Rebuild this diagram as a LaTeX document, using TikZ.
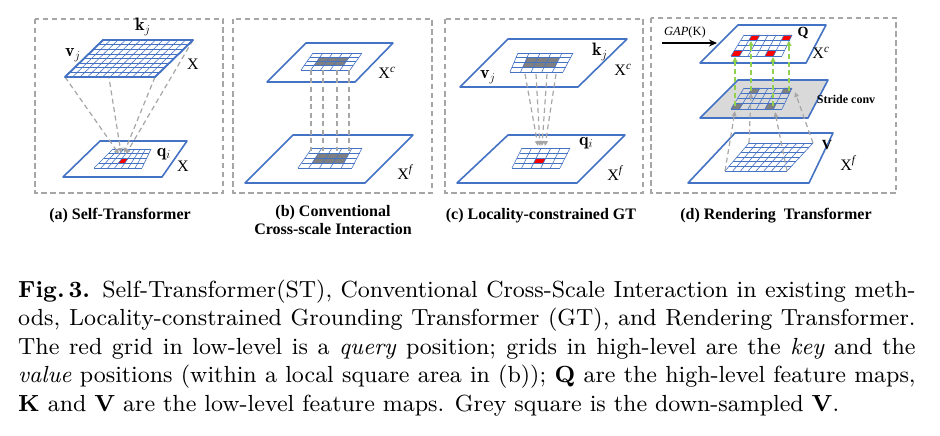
\documentclass[tikz,border=0pt]{standalone}
\usepackage{fontspec}
\usepackage{graphicx}
\newfontfamily\tms{Liberation Serif}
\usetikzlibrary{arrows.meta,calc}
\definecolor{pblue}{HTML}{4472C4}
\definecolor{dgray}{HTML}{A6A6A6}
\definecolor{cgray}{HTML}{7F7F7F}
\definecolor{lgray}{HTML}{D9D9D9}
\definecolor{grn}{HTML}{92D050}
\definecolor{qred}{HTML}{FF0000}
% grid inside a quadrilateral: BL, BR, TR, TL, ncols, nrows
\newcommand\qgrid[6]{%
  \foreach \k in {0,...,#5}{\draw[gl] ($(#1)!\k/#5!(#2)$) -- ($(#4)!\k/#5!(#3)$);}%
  \foreach \k in {0,...,#6}{\draw[gl] ($(#1)!\k/#6!(#4)$) -- ($(#2)!\k/#6!(#3)$);}%
}
% one cell: BL, BR, TR, TL, ncols, nrows, col, row, colour
\newcommand\qcell[9]{%
  \pgfmathsetmacro\uA{#7/#5}\pgfmathsetmacro\uB{(#7+1)/#5}%
  \pgfmathsetmacro\vA{#8/#6}\pgfmathsetmacro\vB{(#8+1)/#6}%
  \coordinate (tA) at ($(#1)!\uA!(#2)$);
  \coordinate (tB) at ($(#4)!\uA!(#3)$);
  \coordinate (tC) at ($(#1)!\uB!(#2)$);
  \coordinate (tD) at ($(#4)!\uB!(#3)$);
  \fill[#9] ($(tA)!\vA!(tB)$) -- ($(tC)!\vA!(tD)$) -- ($(tC)!\vB!(tD)$) -- ($(tA)!\vB!(tB)$) -- cycle;%
}
\newcommand\qplane[5]{\draw[#5] (#1) -- (#2) -- (#3) -- (#4) -- cycle;}
% one caption line: 9pt text scaled up
\newcommand\capline[1]{\scalebox{2.59}{\fontsize{9}{11}\selectfont\makebox[346.5pt][s]{#1}}}
\newcommand\caplast[1]{\scalebox{2.59}{\fontsize{9}{11}\selectfont #1}}
\begin{document}
\begin{tikzpicture}[x=1pt,y=-1pt,
  gl/.style={draw=pblue, line width=0.6pt},
  pl/.style={draw=pblue, line width=1.6pt, line join=round, fill=white},
  pln/.style={draw=pblue, line width=1.6pt, line join=round},
  pbox/.style={draw=dgray, line width=1.2pt, dash pattern=on 5.5pt off 3.5pt},
  dl/.style={draw=dgray, line width=1.2pt, dash pattern=on 5pt off 3.5pt},
  gtip/.style={-{Triangle[length=5pt,width=4.5pt]}},
  gn/.style={draw=grn, line width=1.5pt, dash pattern=on 5pt off 3pt, -{Triangle[length=5pt,width=5pt]}},
  lab/.style={font=\fontsize{16}{16}\selectfont\tms, inner sep=0pt},
  vlab/.style={font=\fontsize{18}{18}\selectfont, inner sep=0pt},
  blab/.style={font=\fontsize{14}{14}\selectfont\tms\bfseries, inner sep=0pt},
  subcap/.style={font=\fontsize{16}{18}\selectfont\tms\bfseries, inner sep=0pt, align=center},
  captxt/.style={inner sep=0pt, anchor=base west}
]
\useasboundingbox (0,0) rectangle (940,436);
\fill[white] (0,0) rectangle (940,436);

% ---------- panel boxes ----------
\draw[pbox] (35,19) rectangle (223,193);
\draw[pbox] (233,19) rectangle (432,193);
\draw[pbox] (445,19) rectangle (643,193);
\draw[pbox] (651,18) rectangle (896,193);

% ---------- panel (a) ----------
\coordinate (aBbl) at (63,177); \coordinate (aBbr) at (162,177);
\coordinate (aBtr) at (187,141); \coordinate (aBtl) at (100,141);
\qplane{aBbl}{aBbr}{aBtr}{aBtl}{pl}
\coordinate (agbl) at (94,168); \coordinate (agbr) at (142,168);
\coordinate (agtr) at (151,149); \coordinate (agtl) at (113,149);
\qcell{agbl}{agbr}{agtr}{agtl}{7}{4}{3}{1}{qred}
\qgrid{agbl}{agbr}{agtr}{agtl}{7}{4}
\coordinate (aTbl) at (65,77); \coordinate (aTbr) at (155,77);
\coordinate (aTtr) at (193,40); \coordinate (aTtl) at (103,40);
\coordinate (aq1) at (119,154); \coordinate (aq2) at (121,153);
\coordinate (aq3) at (124,153); \coordinate (aq4) at (126,154);
\draw[dl,gtip,dgray] (aTbl) -- (aq1);
\draw[dl,gtip,dgray] (aTtl) -- (aq2);
\draw[dl,gtip,dgray] (aTbr) -- (aq3);
\draw[dl,gtip,dgray] (aTtr) -- (aq4);
\qplane{aTbl}{aTbr}{aTtr}{aTtl}{pl, fill opacity=0.8}
\qgrid{aTbl}{aTbr}{aTtr}{aTtl}{12}{8}
\qplane{aTbl}{aTbr}{aTtr}{aTtl}{pln}
\node[vlab] (akj) at (143,27) {$\mathbf{k}_j$};
\node[vlab] (avj) at (73,55) {$\mathbf{v}_j$};
\node[lab] (aX1) at (193,64) {X};
\node[vlab] (aqi) at (164,154) {$\mathbf{q}_i$};
\node[lab] (aX2) at (183,166) {X};

% ---------- panel (b) ----------
\coordinate (bBbl) at (245,183); \coordinate (bBbr) at (365,183);
\coordinate (bBtr) at (413,135); \coordinate (bBtl) at (293,135);
\qplane{bBbl}{bBbr}{bBtr}{bBtl}{pl}
\coordinate (bgbl) at (298,168); \coordinate (bgbr) at (352,168);
\coordinate (bgtr) at (362,148); \coordinate (bgtl) at (312,148);
\foreach \i in {1,2,3}{\foreach \j in {1,2}{\qcell{bgbl}{bgbr}{bgtr}{bgtl}{5}{4}{\i}{\j}{cgray}}}
\qgrid{bgbl}{bgbr}{bgtr}{bgtl}{5}{4}
\coordinate (bTbl) at (267,82); \coordinate (bTbr) at (355,82);
\coordinate (bTtr) at (393,43); \coordinate (bTtl) at (306,43);
\qplane{bTbl}{bTbr}{bTtr}{bTtl}{pl}
\coordinate (bhbl) at (301,70); \coordinate (bhbr) at (350,70);
\coordinate (bhtr) at (362,53); \coordinate (bhtl) at (313,53);
\foreach \i in {1,2,3}{\foreach \j in {1,2}{\qcell{bhbl}{bhbr}{bhtr}{bhtl}{5}{4}{\i}{\j}{cgray}}}
\qgrid{bhbl}{bhbr}{bhtr}{bhtl}{5}{4}
\foreach \xx [count=\n] in {311,323,337,349}{
  \coordinate (bu\n) at (\xx,70); \coordinate (bd\n) at (\xx,151);
  \draw[dl] (bu\n) -- (bd\n);}
\node[lab] (bXc) at (387,73) {X\textsuperscript{\itshape c}};
\node[lab] (bXf) at (405,172) {X\textsuperscript{\itshape f}};

% ---------- panel (c) ----------
\coordinate (cBbl) at (457,183); \coordinate (cBbr) at (577,183);
\coordinate (cBtr) at (625,135); \coordinate (cBtl) at (508,135);
\qplane{cBbl}{cBbr}{cBtr}{cBtl}{pl}
\coordinate (cgbl) at (512,168); \coordinate (cgbr) at (560,168);
\coordinate (cgtr) at (570,148); \coordinate (cgtl) at (522,148);
\qcell{cgbl}{cgbr}{cgtr}{cgtl}{5}{4}{2}{1}{qred}
\qgrid{cgbl}{cgbr}{cgtr}{cgtl}{5}{4}
\coordinate (cTbl) at (460,87); \coordinate (cTbr) at (578,87);
\coordinate (cTtr) at (627,39); \coordinate (cTtl) at (508,39);
\qplane{cTbl}{cTbr}{cTtr}{cTtl}{pl}
\coordinate (chbl) at (510,72); \coordinate (chbr) at (563,72);
\coordinate (chtr) at (573,53); \coordinate (chtl) at (518,53);
\foreach \i in {1,2,3}{\foreach \j in {1,2}{\qcell{chbl}{chbr}{chtr}{chtl}{5}{4}{\i}{\j}{cgray}}}
\qgrid{chbl}{chbr}{chtr}{chtl}{5}{4}
\foreach \xa/\xb [count=\n] in {525/538,536/540,547/542,556/545}{
  \coordinate (cu\n) at (\xa,74); \coordinate (cd\n) at (\xb,146);
  \draw[dl,gtip,dgray] (cu\n) -- (cd\n);}
\node[vlab] (ckj) at (600,52) {$\mathbf{k}_j$};
\node[lab] (cXc) at (623,70) {X\textsuperscript{\itshape c}};
\node[vlab] (cvj) at (488,77) {$\mathbf{v}_j$};
\node[vlab] (cqi) at (586,143) {$\mathbf{q}_i$};
\node[lab] (cXf) at (615,173) {X\textsuperscript{\itshape f}};

% ---------- panel (d) ----------
\coordinate (dBbl) at (688,183); \coordinate (dBbr) at (809,183);
\coordinate (dBtr) at (833,133); \coordinate (dBtl) at (735,133);
\qplane{dBbl}{dBbr}{dBtr}{dBtl}{pl}
\coordinate (dgbl) at (725,171); \coordinate (dgbr) at (787,171);
\coordinate (dgtr) at (813,143); \coordinate (dgtl) at (749,143);
\qgrid{dgbl}{dgbr}{dgtr}{dgtl}{8}{6}
\coordinate (dMbl) at (700,118); \coordinate (dMbr) at (808,118);
\coordinate (dMtr) at (828,80); \coordinate (dMtl) at (738,80);
\qplane{dMbl}{dMbr}{dMtr}{dMtl}{pl, fill=lgray}
\coordinate (dmbl) at (731,109); \coordinate (dmbr) at (782,109);
\coordinate (dmtr) at (792,88); \coordinate (dmtl) at (744,88);
\qcell{dmbl}{dmbr}{dmtr}{dmtl}{6}{4}{0}{0}{cgray}
\qcell{dmbl}{dmbr}{dmtr}{dmtl}{6}{4}{4}{0}{cgray}
\qcell{dmbl}{dmbr}{dmtr}{dmtl}{6}{4}{1}{3}{cgray}
\qcell{dmbl}{dmbr}{dmtr}{dmtl}{6}{4}{5}{3}{cgray}
\qgrid{dmbl}{dmbr}{dmtr}{dmtl}{6}{4}
\coordinate (dr1) at (735,111); \coordinate (dr2) at (751,93);
\coordinate (dr3) at (775,112); \coordinate (dr4) at (795,92);
\draw[dl,gtip,dgray] (dgbl) -- (dr1);
\draw[dl,gtip,dgray] (dgtl) -- (dr2);
\draw[dl,gtip,dgray] (dgbr) -- (dr3);
\draw[dl,gtip,dgray] (dgtr) -- (dr4);
\coordinate (dTbl) at (700,63); \coordinate (dTbr) at (806,63);
\coordinate (dTtr) at (826,25); \coordinate (dTtl) at (738,25);
\qplane{dTbl}{dTbr}{dTtr}{dTtl}{pl}
\coordinate (dtbl) at (731,56); \coordinate (dtbr) at (782,56);
\coordinate (dttr) at (792,35); \coordinate (dttl) at (744,35);
\qcell{dtbl}{dtbr}{dttr}{dttl}{6}{4}{0}{0}{qred}
\qcell{dtbl}{dtbr}{dttr}{dttl}{6}{4}{4}{0}{qred}
\qcell{dtbl}{dtbr}{dttr}{dttl}{6}{4}{1}{3}{qred}
\qcell{dtbl}{dtbr}{dttr}{dttl}{6}{4}{5}{3}{qred}
\qgrid{dtbl}{dtbr}{dttr}{dttl}{6}{4}
\foreach \xx/\ya/\yb [count=\n] in {735/106/57,773/106/57,751/91/41,789/91/41}{
  \coordinate (ga\n) at (\xx,\ya); \coordinate (gb\n) at (\xx,\yb);
  \draw[gn] (ga\n) -- (gb\n);}
\node[font=\fontsize{12.5}{12.5}\selectfont\tms, inner sep=0pt] (gap) at (685,32) {\textit{GAP}(K)};
\coordinate (gapS) at (662,43); \coordinate (gapE) at (717,43);
\draw[line width=1.5pt, -{Stealth[length=8pt,width=7pt]}] (gapS) -- (gapE);
\node[blab] (dQ) at (803,33) {Q};
\node[lab] (dXc) at (821,53) {X\textsuperscript{\itshape c}};
\node[font=\fontsize{12}{12}\selectfont\tms\bfseries, inner sep=0pt] (dsc) at (846,99) {Stride conv};
\node[blab] (dV) at (827,145) {V};
\node[lab] (dXf) at (848,163) {X\textsuperscript{\itshape f}};

% ---------- sub-captions ----------
\node[subcap, anchor=base] (sa) at (120,219) {(a) Self-Transformer};
\node[subcap, anchor=base] (sb1) at (333,216) {(b) Conventional};
\node[subcap, anchor=base] (sb2) at (333,234) {Cross-scale Interaction};
\node[subcap, anchor=base] (sc) at (541,219) {(c) Locality-constrained GT};
\node[subcap, anchor=base] (sd) at (776,219) {(d) Rendering\ \ Transformer};

% ---------- caption ----------
\node[captxt] (l1) at (18,297) {\capline{\textbf{Fig.\,3.} Self-Transformer(ST), Conventional Cross-Scale Interaction in existing meth-}};
\node[captxt] (l2) at (18,325.5) {\capline{ods, Locality-constrained Grounding Transformer (GT), and Rendering Transformer.}};
\node[captxt] (l3) at (18,354) {\capline{The red grid in low-level is a \emph{query} position; grids in high-level are the \emph{key} and the}};
\node[captxt] (l4) at (18,382.5) {\capline{\emph{value} positions (within a local square area in (b)); \textbf{Q} are the high-level feature maps,}};
\node[captxt] (l5) at (18,411) {\caplast{\textbf{K} and \textbf{V} are the low-level feature maps. Grey square is the down-sampled \textbf{V}.}};
\end{tikzpicture}
\end{document}
